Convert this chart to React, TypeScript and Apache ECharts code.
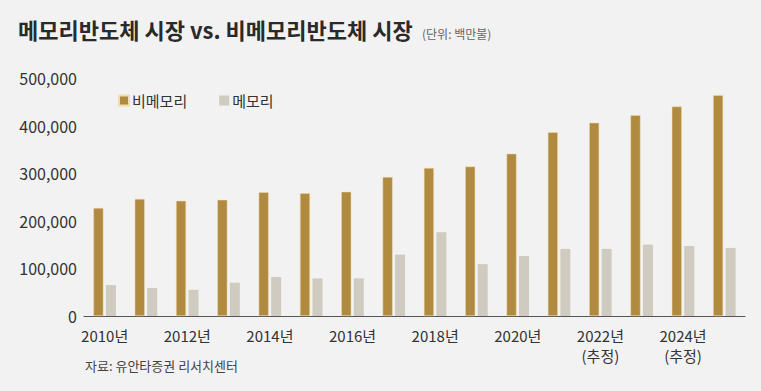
import React, { useEffect, useRef } from "react";
import * as echarts from "echarts";

const categories = [
  "2010년", "2011년", "2012년", "2013년", "2014년", "2015년", "2016년", "2017년",
  "2018년", "2019년", "2020년", "2021년", "2022년\n(추정)", "2023년\n(추정)", "2024년\n(추정)", "2025년\n(추정)",
];
const nonMemory = [227000, 246000, 242000, 244000, 260000, 258000, 261000, 292000, 311000, 314000, 341000, 386000, 406000, 422000, 440000, 464000];
const memory = [65000, 59000, 55000, 70000, 82000, 79000, 79000, 129000, 176000, 109000, 126000, 141000, 141000, 150000, 147000, 143000];
const yTicks = [0, 100000, 200000, 300000, 400000, 500000];

const FONT = "'Noto Sans CJK KR', 'Noto Sans', sans-serif";

export default function App() {
  const ref = useRef<HTMLDivElement>(null);
  useEffect(() => {
    document.body.style.margin = "0";
    if (!ref.current) return;
    const chart = echarts.init(ref.current, null, { renderer: "svg" });
    chart.setOption({
      animation: false,
      backgroundColor: "#f2f2f2",
      textStyle: { fontFamily: FONT },
      title: [
        {
          text: "메모리반도체 시장 vs. 비메모리반도체 시장",
          left: 13,
          top: 13,
          textStyle: { fontSize: 22, fontWeight: "bold", color: "#2a2a2a", fontFamily: FONT },
        },
        {
          text: "(단위: 백만불)",
          left: 417,
          top: 22,
          textStyle: { fontSize: 12, fontWeight: "normal", color: "#666", fontFamily: FONT },
        },
        {
          text: "자료: 유안타증권 리서치센터",
          left: 80,
          top: 354,
          textStyle: { fontSize: 13, fontWeight: "normal", color: "#444", fontFamily: FONT },
        },
      ],
      legend: {
        left: 113,
        top: 88,
        itemWidth: 10,
        itemHeight: 10,
        itemGap: 32,
        icon: "rect",
        textStyle: { fontSize: 15, color: "#333", fontFamily: FONT, padding: [0, 0, 0, -2] },
        data: ["비메모리", "메모리"],
      },
      grid: { left: 84, right: 16, top: 78, bottom: 75 },
      xAxis: {
        type: "category",
        data: categories,
        axisLine: { lineStyle: { color: "#555", width: 1 } },
        axisTick: { show: false },
        axisLabel: {
          interval: 1,
          fontSize: 15,
          color: "#333",
          margin: 9,
          lineHeight: 20,
          fontFamily: FONT,
        },
      },
      yAxis: {
        type: "value",
        min: yTicks[0],
        max: yTicks[yTicks.length - 1],
        interval: 100000,
        axisLine: { show: false },
        axisTick: { show: false },
        splitLine: { show: false },
        axisLabel: {
          fontSize: 16,
          color: "#333",
          margin: 7,
          fontFamily: FONT,
          formatter: (v: number) => v.toLocaleString("en-US"),
        },
      },
      series: [
        {
          name: "비메모리",
          type: "bar",
          data: nonMemory,
          barWidth: 10,
          barGap: "25%",
          itemStyle: { color: "#b08a3e", borderColor: "#f0dcb0", borderWidth: 0.5 },
        },
        {
          name: "메모리",
          type: "bar",
          data: memory,
          barWidth: 10,
          itemStyle: { color: "#cfcbc0" },
        },
      ],
    });
    return () => chart.dispose();
  }, []);
  return <div ref={ref} style={{ width: 761, height: 391 }} />;
}
